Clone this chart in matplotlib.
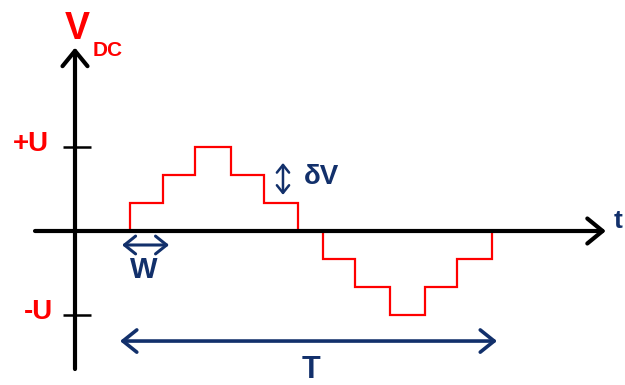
""" stepped (multilevel) DC voltage over one period T """
import matplotlib
matplotlib.use("Agg")
import matplotlib.pyplot as plt

# step boundaries in units of one step width W, levels in units of dV
pos_edges = [1.64, 2.62, 3.57, 4.64, 5.63, 6.64]
pos_levels = [1, 2, 3, 2, 1]
neg_edges = [7.38, 8.33, 9.38, 10.42, 11.37, 12.41]
neg_levels = [-1, -2, -3, -2, -1]
u_level = 3
period = [1.34, 12.56]
w_span = [1.40, 2.80]
dv_span = [1.29, 2.43]

RED = "#ff0000"
NAVY = "#12306b"
FONT = "Liberation Sans"

fig = plt.figure(figsize=(6.25, 3.85), dpi=100)
ax = fig.add_axes([0, 0, 1, 1])
ax.set_xlim(-75 / 33.6, 550 / 33.6)
ax.set_ylim(-154 / 28, 231 / 28)
ax.axis("off")

# axes with open arrow heads
axis_arrow = dict(arrowstyle="->,head_length=0.55,head_width=0.45",
                  lw=3, color="black", shrinkA=0, shrinkB=0,
                  mutation_scale=20)
ax.annotate("", xy=(15.8, 0), xytext=(-1.19, 0), arrowprops=axis_arrow)
ax.annotate("", xy=(0, 6.55), xytext=(0, -4.93), arrowprops=axis_arrow)

# +U / -U tick marks
for lev in (u_level, -u_level):
    ax.plot([-0.36, 0.48], [lev, lev], color="black", lw=1.8,
            solid_capstyle="butt")

# the staircase
ax.stairs(pos_levels, pos_edges, baseline=0, color=RED, lw=1.6)
ax.stairs(neg_levels, neg_edges, baseline=0, color=RED, lw=1.6)

# dimension arrows
dim_arrow = dict(arrowstyle="<->,head_length=0.5,head_width=0.4",
                 lw=2.2, color=NAVY, shrinkA=0, shrinkB=0, mutation_scale=16)
ax.annotate("", xy=(w_span[1], -0.5), xytext=(w_span[0], -0.5),
            arrowprops=dim_arrow)
ax.annotate("", xy=(period[1], -3.93), xytext=(period[0], -3.93),
            arrowprops=dict(dim_arrow, lw=2.6, mutation_scale=20))
ax.annotate("", xy=(6.19, dv_span[1]), xytext=(6.19, dv_span[0]),
            arrowprops=dict(dim_arrow, lw=1.8, mutation_scale=11))

# labels
kw = dict(family=FONT, weight="bold", ha="center", va="center")
ax.text(0.06, 7.21, "V", color=RED, fontsize=27, **kw)
ax.text(0.98, 6.43, "DC", color=RED, fontsize=15, **kw)
ax.text(-1.31, 3.11, "+U", color=RED, fontsize=20, **kw)
ax.text(-1.10, -2.9, "-U", color=RED, fontsize=20, **kw)
ax.text(2.05, -1.39, "W", color=NAVY, fontsize=21, **kw)
ax.text(7.35, 1.93, "δV", color=NAVY, fontsize=20, **kw)
ax.text(7.02, -4.95, "T", color=NAVY, fontsize=22, **kw)
ax.text(16.02, 0.36, "t", color=NAVY, fontsize=19,
        **dict(kw, ha="left"))

fig.savefig("out.png", dpi=100)
